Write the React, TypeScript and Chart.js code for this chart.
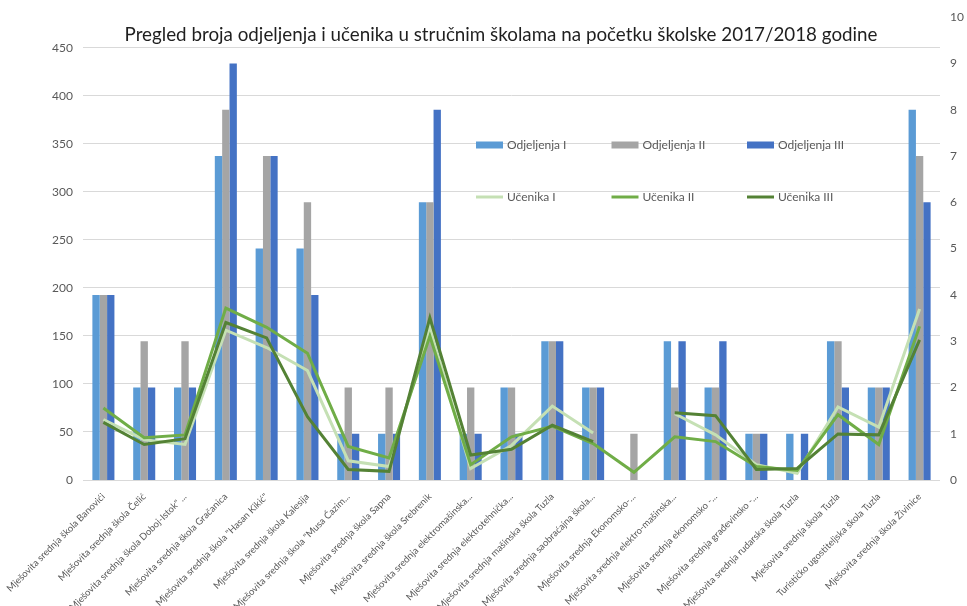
import React, { useEffect, useRef } from "react";
import { Chart, registerables } from "chart.js";

Chart.register(...registerables);

const title =
  "Pregled broja odjeljenja i učenika u stručnim školama na početku školske 2017/2018 godine";

const categories = [
  "Mješovita srednja škola Banovići",
  "Mješovita srednja škola Čelić",
  'Mješovita srednja škola Doboj-Istok" ...',
  "Mješovita srednja škola Gračanica",
  'Mješovita srednja škola "Hasan Kikić"',
  "Mješovita srednja škola Kalesija",
  'Mješovita srednja škola "Musa Ćazim...',
  "Mješovita srednja škola Sapna",
  "Mješovita srednja škola Srebrenik",
  "Mješovita srednja elektromašinska...",
  "Mješovita srednja elektrotehnička...",
  "Mješovita srednja mašinska škola Tuzla",
  "Mješovita srednja saobraćajna škola...",
  "Mješovita srednja Ekonomsko-...",
  "Mješovita srednja elektro-mašinska...",
  "Mješovita srednja ekonomsko -...",
  "Mješovita srednja građevinsko -...",
  "Mješovita srednja rudarska škola Tuzla",
  "Mješovita srednja škola Tuzla",
  "Turističko ugostiteljska škola Tuzla",
  "Mješovita srednja škola Živinice",
];

// Right axis (number of classes)
const odjeljenjaI = [4, 2, 2, 7, 5, 5, 1, 1, 6, 1, 2, 3, 2, 0, 3, 2, 1, 1, 3, 2, 8];
const odjeljenjaII = [4, 3, 3, 8, 7, 6, 2, 2, 6, 2, 2, 3, 2, 1, 2, 2, 1, 0, 3, 2, 7];
const odjeljenjaIII = [4, 2, 2, 9, 7, 4, 1, 1, 8, 1, 1, 3, 2, 0, 3, 3, 1, 1, 2, 2, 6];

// Left axis (number of students)
const ucenikaI = [63, 42, 37, 156, 138, 114, 20, 14, 159, 12, 36, 77, 49, null, 69, 47, 16, 7, 76, 55, 178];
const ucenikaII = [75, 44, 47, 179, 159, 132, 35, 23, 150, 16, 45, 56, 38, 8, 45, 40, 14, 10, 68, 37, 160];
const ucenikaIII = [60, 37, 43, 164, 148, 66, 11, 9, 169, 26, 32, 57, 40, null, 70, 67, 11, 12, 48, 47, 146];

const leftTicksMax = 482;
const leftStep = 50;
const rightMax = 10;
const rightStep = 1;

const colors = {
  odjI: "#5B9BD5",
  odjII: "#A5A5A5",
  odjIII: "#4472C4",
  ucI: "#C5E0B4",
  ucII: "#70AD47",
  ucIII: "#548235",
};

const FONT = "Lato, 'Open Sans', 'Liberation Sans', sans-serif";
const TEXT_GRAY = "#595959";

const overlayPlugin = {
  id: "overlay",
  afterDraw(chart: any) {
    const ctx = chart.ctx;
    ctx.save();
    // title
    ctx.fillStyle = "#1f1f1f";
    ctx.font = `18.8px ${FONT}`;
    ctx.textAlign = "center";
    ctx.textBaseline = "middle";
    ctx.fillText(title, 501, 35);

    // legend
    const items = chart.data.datasets.map((d: any) => ({
      label: d.label,
      color: d.type === "line" ? d.borderColor : d.backgroundColor,
      isLine: d.type === "line",
    }));
    const order = ["Odjeljenja I", "Odjeljenja II", "Odjeljenja III", "Učenika I", "Učenika II", "Učenika III"];
    ctx.font = `12px ${FONT}`;
    ctx.textAlign = "left";
    ctx.textBaseline = "middle";
    order.forEach((name, i) => {
      const it = items.find((x: any) => x.label === name);
      if (!it) return;
      const col = i % 3;
      const row = Math.floor(i / 3);
      const x0 = 476 + col * 135.5;
      const y = 145 + row * 52;
      if (it.isLine) {
        ctx.strokeStyle = it.color;
        ctx.lineWidth = 3;
        ctx.beginPath();
        ctx.moveTo(x0, y);
        ctx.lineTo(x0 + 27, y);
        ctx.stroke();
      } else {
        ctx.fillStyle = it.color;
        ctx.fillRect(x0, y - 3.5, 27, 7);
      }
      ctx.fillStyle = TEXT_GRAY;
      ctx.fillText(it.label, x0 + 31, y);
    });
    ctx.restore();
  },
};

export default function App() {
  const canvasRef = useRef<HTMLCanvasElement | null>(null);

  useEffect(() => {
    if (!canvasRef.current) return;
    const lineDs = (label: string, data: (number | null)[], color: string) => ({
      type: "line" as const,
      label,
      data,
      borderColor: color,
      backgroundColor: color,
      borderWidth: 3,
      pointRadius: 0,
      tension: 0,
      yAxisID: "y",
      order: 0,
      spanGaps: false,
    });
    const barDs = (label: string, data: number[], color: string) => ({
      type: "bar" as const,
      label,
      data,
      backgroundColor: color,
      borderWidth: 0,
      yAxisID: "y1",
      order: 1,
      barPercentage: 1,
      categoryPercentage: 0.54,
    });

    const chart = new Chart(canvasRef.current, {
      data: {
        labels: categories,
        datasets: [
          lineDs("Učenika III", ucenikaIII, colors.ucIII),
          lineDs("Učenika II", ucenikaII, colors.ucII),
          lineDs("Učenika I", ucenikaI, colors.ucI),
          barDs("Odjeljenja I", odjeljenjaI, colors.odjI),
          barDs("Odjeljenja II", odjeljenjaII, colors.odjII),
          barDs("Odjeljenja III", odjeljenjaIII, colors.odjIII),
        ] as any,
      },
      options: {
        animation: false,
        responsive: true,
        maintainAspectRatio: false,
        layout: { padding: { top: 16, left: 0, right: 0, bottom: 0 } },
        plugins: {
          legend: { display: false },
          title: { display: false },
          tooltip: { enabled: false },
        },
        scales: {
          x: {
            grid: { display: false, drawTicks: false },
            border: { display: false },
            ticks: {
              autoSkip: false,
              maxRotation: 45,
              minRotation: 45,
              color: TEXT_GRAY,
              font: { family: FONT, size: 9.5 },
              padding: 11,
              labelOffset: 0,
            },
            afterFit: (s: any) => {
              s.height = 126;
              s.paddingLeft = 0;
              s.paddingRight = 0;
            },
          },
          y: {
            position: "left",
            min: 0,
            max: leftTicksMax,
            ticks: {
              stepSize: leftStep,
              includeBounds: false,
              color: TEXT_GRAY,
              font: { family: FONT, size: 12 },
              padding: 10,
            },
            grid: { color: "#D9D9D9", drawTicks: false, lineWidth: 1 },
            border: { display: false },
            afterFit: (s: any) => {
              s.width = 83;
            },
          },
          y1: {
            position: "right",
            min: 0,
            max: rightMax,
            ticks: {
              stepSize: rightStep,
              color: TEXT_GRAY,
              font: { family: FONT, size: 12 },
              padding: 10,
            },
            grid: { display: false, drawTicks: false },
            border: { display: false },
            afterFit: (s: any) => {
              s.width = 27;
            },
          },
        },
      } as any,
      plugins: [overlayPlugin],
    });
    return () => chart.destroy();
  }, []);

  return (
    <div
      style={{
        position: "fixed",
        left: 0,
        top: 0,
        width: 967,
        height: 606,
        background: "#ffffff",
      }}
    >
      <canvas ref={canvasRef} />
    </div>
  );
}
